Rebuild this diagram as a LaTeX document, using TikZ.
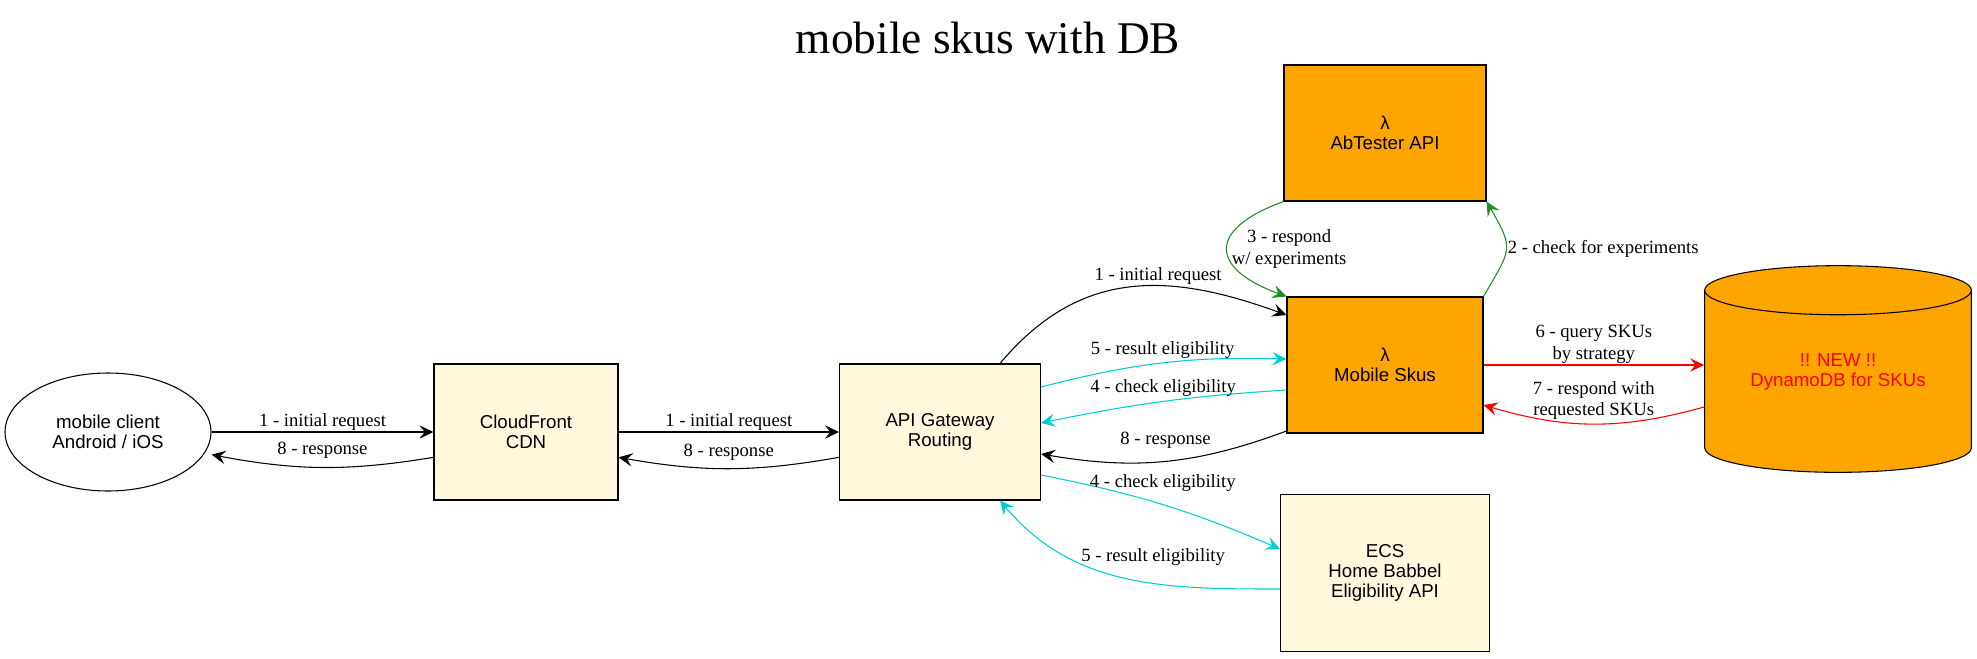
\documentclass[tikz,border=0pt]{standalone}
\usepackage{fontspec}
\setmainfont{Liberation Serif}
\newfontfamily\boxfont{Liberation Sans}
\usetikzlibrary{arrows.meta}
\usetikzlibrary{shapes.geometric}
\definecolor{lambdaorange}{RGB}{255,165,0}
\definecolor{cornsilk}{RGB}{255,248,220}
\definecolor{turq}{RGB}{0,206,209}
\definecolor{forest}{RGB}{34,139,34}

\begin{document}
\begin{tikzpicture}[x=0.75pt, y=-0.75pt,
  >={Stealth[length=10.5pt,width=10pt,inset=4pt]},
  every node/.style={font=\fontsize{14}{16}\selectfont, align=center, inner sep=1pt},
  svc/.style={draw, line width=0.8pt, fill=cornsilk, inner sep=0pt, font=\boxfont\fontsize{14}{15}\selectfont},
  lam/.style={svc, fill=lambdaorange},
  flow/.style={line width=0.8pt}
]
\useasboundingbox (0,0) rectangle (1977,658);

\node[font=\fontsize{34}{40}\selectfont] (title) at (988,38) {mobile skus with DB};

\node[svc, ellipse, fill=white, minimum width=154.5pt, minimum height=88.5pt] (client) at (108,432) {mobile client\\Android / iOS};
\node[svc, minimum width=138pt, minimum height=102pt] (cdn) at (526,432) {CloudFront\\CDN};
\node[svc, minimum width=150.75pt, minimum height=102pt] (gw) at (940,432) {API Gateway\\Routing};
\node[lam, minimum width=151.5pt, minimum height=102pt] (abtester) at (1385,133) {λ\\AbTester API};
\node[lam, minimum width=147pt, minimum height=102pt] (skus) at (1385,365) {λ\\Mobile Skus};
\node[lam, cylinder, shape border rotate=90, aspect=0.28, minimum width=200pt, minimum height=155pt, text=red, anchor=shape center] (db) at (1838,369)
  {\raisebox{7pt}[\height][\depth]{\begin{tabular}{@{}c@{}}!! NEW !!\\DynamoDB for SKUs\end{tabular}}};
\node[svc, minimum width=156.75pt, minimum height=117.75pt] (ecs) at (1385,573) {ECS\\Home Babbel\\Eligibility API};

% client <-> cdn <-> gateway
\path[->, flow]
(client) edge node [above] {1 - initial request} (cdn)
([yshift=-19pt]cdn.west) edge [bend left=10] node [above=5pt] {8 - response} ([yshift=-17pt]client.east)
(cdn) edge node [above] {1 - initial request} (gw)
([yshift=-19pt]gw.west) edge [bend left=10] node [above=5pt] {8 - response} ([yshift=-19pt]cdn.east)
;
% gateway <-> mobile skus
\path[->, flow]
([xshift=45pt]gw.north) edge [out=50, in=160, looseness=1.1] node [pos=0.6, above] {1 - initial request} ([yshift=37.5pt]skus.west)
([yshift=-49.5pt]skus.west) edge [bend left=15] node [above=8pt] {8 - response} ([yshift=-16.5pt]gw.east)
;
\path[->, flow, turq]
([yshift=33.75pt]gw.east) edge [bend left=8] node [above=2pt, text=black] {5 - result eligibility} ([yshift=4.5pt]skus.west)
([yshift=-18.75pt]skus.west) edge [bend right=4] node [above=2pt, text=black] {4 - check eligibility} ([yshift=6.75pt]gw.east)
([yshift=-32.25pt]gw.east) edge [bend left=6] node [above=8.5pt, text=black] {4 - check eligibility} ([yshift=18pt]ecs.west)
([yshift=-12pt]ecs.west) edge [out=180, in=-50] node [pos=0.4, above=12pt, text=black] {5 - result eligibility} ([xshift=45pt]gw.south)
;
% experiments
\path[->, flow, forest]
(skus.north east) edge [out=60, in=-60, looseness=1.5] node [right, text=black, align=left] {2 - check for experiments} (abtester.south east)
(abtester.south west) edge [out=200, in=160, looseness=2.2] node [right=2pt, text=black] {3 - respond\\w/ experiments} (skus.north west)
;
% database
\path[->, flow, red]
(skus.east) edge node [above, text=black] {6 - query SKUs\\by strategy} (skus.east -| db.west)
([yshift=-31.5pt]skus.east -| db.west) edge [bend left=16] node [above=2pt, text=black] {7 - respond with\\requested SKUs} ([yshift=-30pt]skus.east)
;
\end{tikzpicture}
\end{document}
